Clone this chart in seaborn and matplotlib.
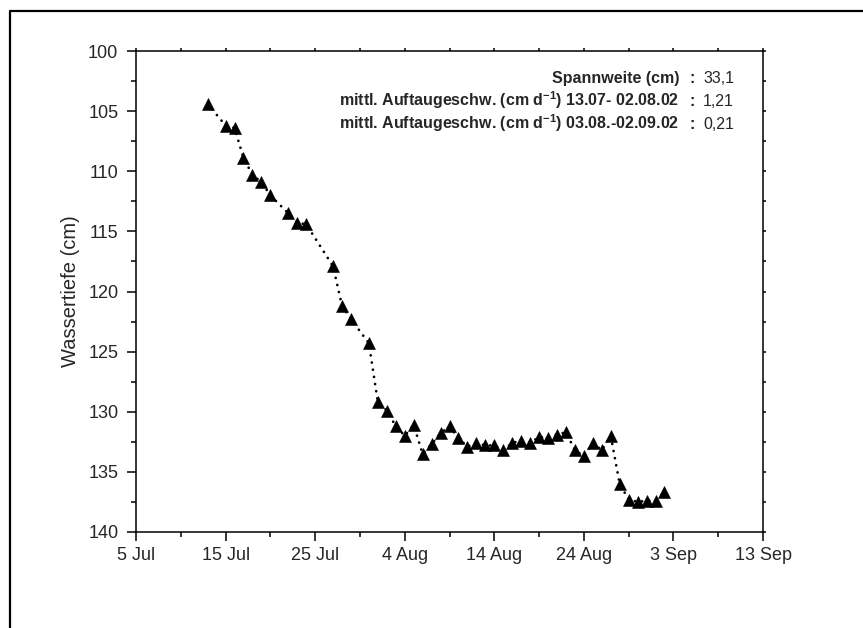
import matplotlib
matplotlib.use("Agg")
import matplotlib.pyplot as plt
import matplotlib.dates as mdates
from matplotlib.lines import Line2D
from matplotlib.ticker import MultipleLocator, FixedLocator
import seaborn as sns
import pandas as pd

# ---------------- data ----------------
dates = [
    "2002-07-13", "2002-07-15", "2002-07-16", "2002-07-17", "2002-07-18",
    "2002-07-19", "2002-07-20", "2002-07-22", "2002-07-23", "2002-07-24",
    "2002-07-27", "2002-07-28", "2002-07-29", "2002-07-31",
    "2002-08-01", "2002-08-02", "2002-08-03", "2002-08-04", "2002-08-05",
    "2002-08-06", "2002-08-07", "2002-08-08", "2002-08-09", "2002-08-10",
    "2002-08-11", "2002-08-12", "2002-08-13", "2002-08-14", "2002-08-15",
    "2002-08-16", "2002-08-17", "2002-08-18", "2002-08-19", "2002-08-20",
    "2002-08-21", "2002-08-22", "2002-08-23", "2002-08-24", "2002-08-25",
    "2002-08-26", "2002-08-27", "2002-08-28", "2002-08-29", "2002-08-30",
    "2002-08-31", "2002-09-01", "2002-09-02",
]
depth_cm = [
    104.4, 106.2, 106.4, 108.9, 110.3,
    110.9, 112.0, 113.5, 114.3, 114.4,
    117.9, 121.2, 122.3, 124.3,
    129.2, 129.9, 131.2, 132.0, 131.1,
    133.5, 132.7, 131.8, 131.2, 132.2,
    132.9, 132.6, 132.8, 132.8, 133.2,
    132.6, 132.4, 132.6, 132.1, 132.2,
    131.9, 131.7, 133.2, 133.7, 132.6,
    133.2, 132.0, 136.0, 137.3, 137.5,
    137.4, 137.4, 136.7,
]
x_tick_dates = ["2002-07-05", "2002-07-15", "2002-07-25", "2002-08-04",
                "2002-08-14", "2002-08-24", "2002-09-03", "2002-09-13"]
x_tick_labels = ["5 Jul", "15 Jul", "25 Jul", "4 Aug", "14 Aug", "24 Aug",
                 "3 Sep", "13 Sep"]
x_minor_dates = ["2002-07-10", "2002-07-20", "2002-07-30", "2002-08-09",
                 "2002-08-19", "2002-08-29", "2002-09-08"]
y_ticks = [100, 105, 110, 115, 120, 125, 130, 135, 140]
y_label = "Wassertiefe (cm)"
stat_labels = [
    "Spannweite (cm)",
    r"mittl. Auftaugeschw. (cm d$^{\mathbf{-1}}$) 13.07- 02.08.02",
    r"mittl. Auftaugeschw. (cm d$^{\mathbf{-1}}$) 03.08.-02.09.02",
]
stat_values = ["33,1", "1,21", "0,21"]

# ---------------- style ----------------
sns.set_style("ticks")
plt.rcParams["font.family"] = ["Liberation Sans", "DejaVu Sans"]
plt.rcParams["mathtext.fontset"] = "custom"
plt.rcParams["mathtext.rm"] = "Liberation Sans"
plt.rcParams["mathtext.bf"] = "Liberation Sans:bold"

W, H = 863, 628
fig = plt.figure(figsize=(W / 100, H / 100), dpi=100)
fig.patch.set_facecolor("white")
ax = fig.add_axes([136 / W, 1 - 532 / H, (763 - 136) / W, (532 - 51) / H])
ax.set_facecolor("white")

df = pd.DataFrame({"Datum": pd.to_datetime(dates), "Wassertiefe": depth_cm})
sns.lineplot(data=df, x="Datum", y="Wassertiefe", ax=ax, color="black",
             linewidth=2.0, linestyle=(0, (0.01, 2.6)), dash_capstyle="round",
             marker="^", markersize=8.0, markeredgewidth=0.4,
             markeredgecolor="black", markerfacecolor="black")

ax.set_xlim(pd.Timestamp(x_tick_dates[0]), pd.Timestamp(x_tick_dates[-1]))
ax.set_ylim(y_ticks[-1], y_ticks[0])
ax.set_xticks(pd.to_datetime(x_tick_dates))
ax.set_xticklabels(x_tick_labels)
ax.xaxis.set_minor_locator(FixedLocator(mdates.date2num(pd.to_datetime(x_minor_dates))))
ax.set_yticks(y_ticks)
ax.yaxis.set_minor_locator(MultipleLocator(2.5))

ax.set_xlabel("")
ax.set_ylabel(y_label, fontsize=14.5, labelpad=6)

for s in ax.spines.values():
    s.set_visible(True)
    s.set_linewidth(1.1)
    s.set_color("black")

ax.tick_params(axis="both", which="major", direction="out", length=6.7,
               width=1.1, color="black", labelsize=13, pad=5)
ax.tick_params(axis="both", which="minor", direction="out", length=3.5,
               width=1.1, color="black")
ax.tick_params(axis="y", which="both", pad=6)
ax.tick_params(axis="x", which="major", pad=4)
ax.tick_params(axis="x", which="both", top=True, labeltop=False)
ax.tick_params(axis="y", which="both", right=True, labelright=False)
for t in ax.xaxis.get_major_ticks() + ax.xaxis.get_minor_ticks():
    t.tick2line.set_markersize(2)
for t in ax.yaxis.get_major_ticks() + ax.yaxis.get_minor_ticks():
    t.tick2line.set_markersize(2)

# statistics block
row_y = [83, 106, 129]
for lab, val, yy in zip(stat_labels, stat_values, row_y):
    fig.text(679 / W, 1 - yy / H, lab, ha="right", va="baseline",
             fontsize=11.5, fontweight="bold")
    fig.text(692 / W, 1 - yy / H, ":", ha="center", va="baseline",
             fontsize=11.5, fontweight="bold")
    fig.text(703 / W, 1 - yy / H, val, ha="left", va="baseline", fontsize=11.5)

# outer frame (top and left visible)
fig.add_artist(Line2D([10 / W, 10 / W, 1.0], [0.0, 1 - 11 / H, 1 - 11 / H],
                      transform=fig.transFigure, color="black", linewidth=1.6))

fig.savefig("out.png", dpi=100)
